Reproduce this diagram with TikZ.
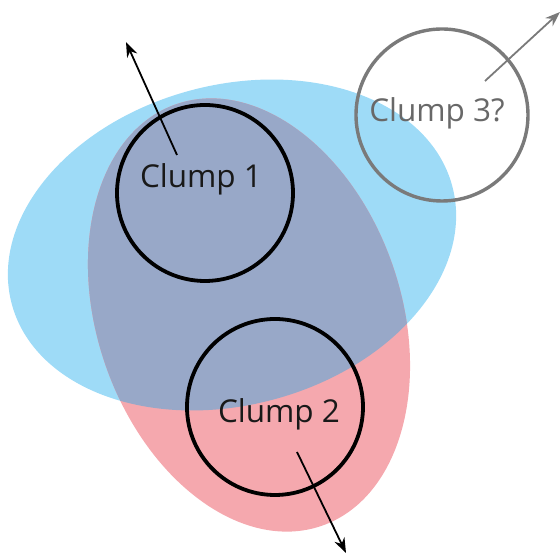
\documentclass[tikz,border=0pt]{standalone}
\usepackage{fontspec}
\setsansfont{Open Sans}
\usetikzlibrary{arrows.meta, positioning}
\definecolor{cielo}{HTML}{9EDBF7}
\definecolor{rosa}{HTML}{F5A8AE}
\definecolor{mezcla}{HTML}{98A8C8}
\definecolor{gris}{HTML}{7A7A7A}
\tikzset{
  every picture/.style={font=\sffamily, >=Stealth},
  grupo/.style={circle, draw=black, line width=3.8pt, minimum size=176pt, inner sep=0pt},
  grupoq/.style={circle, draw=gris, line width=3.4pt, minimum size=172pt, inner sep=0pt},
  etiq/.style={font=\fontsize{31.5}{36}\sffamily, text=black!90},
  etiqq/.style={font=\fontsize{31.5}{36}\sffamily, text=gris!85!black},
  flecha/.style={-{Stealth[length=15pt, width=11pt]}, line width=1.8pt, black},
  flechag/.style={-{Stealth[length=15pt, width=11pt]}, line width=1.8pt, gris},
}
\begin{document}
\begin{tikzpicture}[x=1pt, y=1pt]
  \useasboundingbox (0,0) rectangle (560,553);
  % regiones
  \fill[cielo] (232,308) ellipse [x radius=228, y radius=160, rotate=15];
  \fill[rosa] (249,238) ellipse [x radius=152, y radius=223, rotate=19];
  \begin{scope}
    \clip (232,308) ellipse [x radius=228, y radius=160, rotate=15];
    \fill[mezcla] (249,238) ellipse [x radius=152, y radius=223, rotate=19];
  \end{scope}
  % grupos
  \node[grupo] (C1) at (205,360) {};
  \node[grupo] (C2) at (275,146) {};
  \node[grupoq] (C3) at (442,438) {};
  \node[etiq] (T1) at (201,374) {Clump 1};
  \node[etiq] (T2) at (279,139) {Clump 2};
  \node[etiqq] (T3) at (437,440) {Clump 3?};
  \coordinate (A1) at (177,398);
  \coordinate (B1) at (126,511);
  \coordinate (A2) at (297,101);
  \coordinate (B2) at (346,0);
  \coordinate (A3) at (485,472);
  \coordinate (B3) at (560,541);
  \draw[flecha] (A1) -- (B1);
  \draw[flecha] (A2) -- (B2);
  \draw[flechag] (A3) -- (B3);
\end{tikzpicture}
\end{document}
